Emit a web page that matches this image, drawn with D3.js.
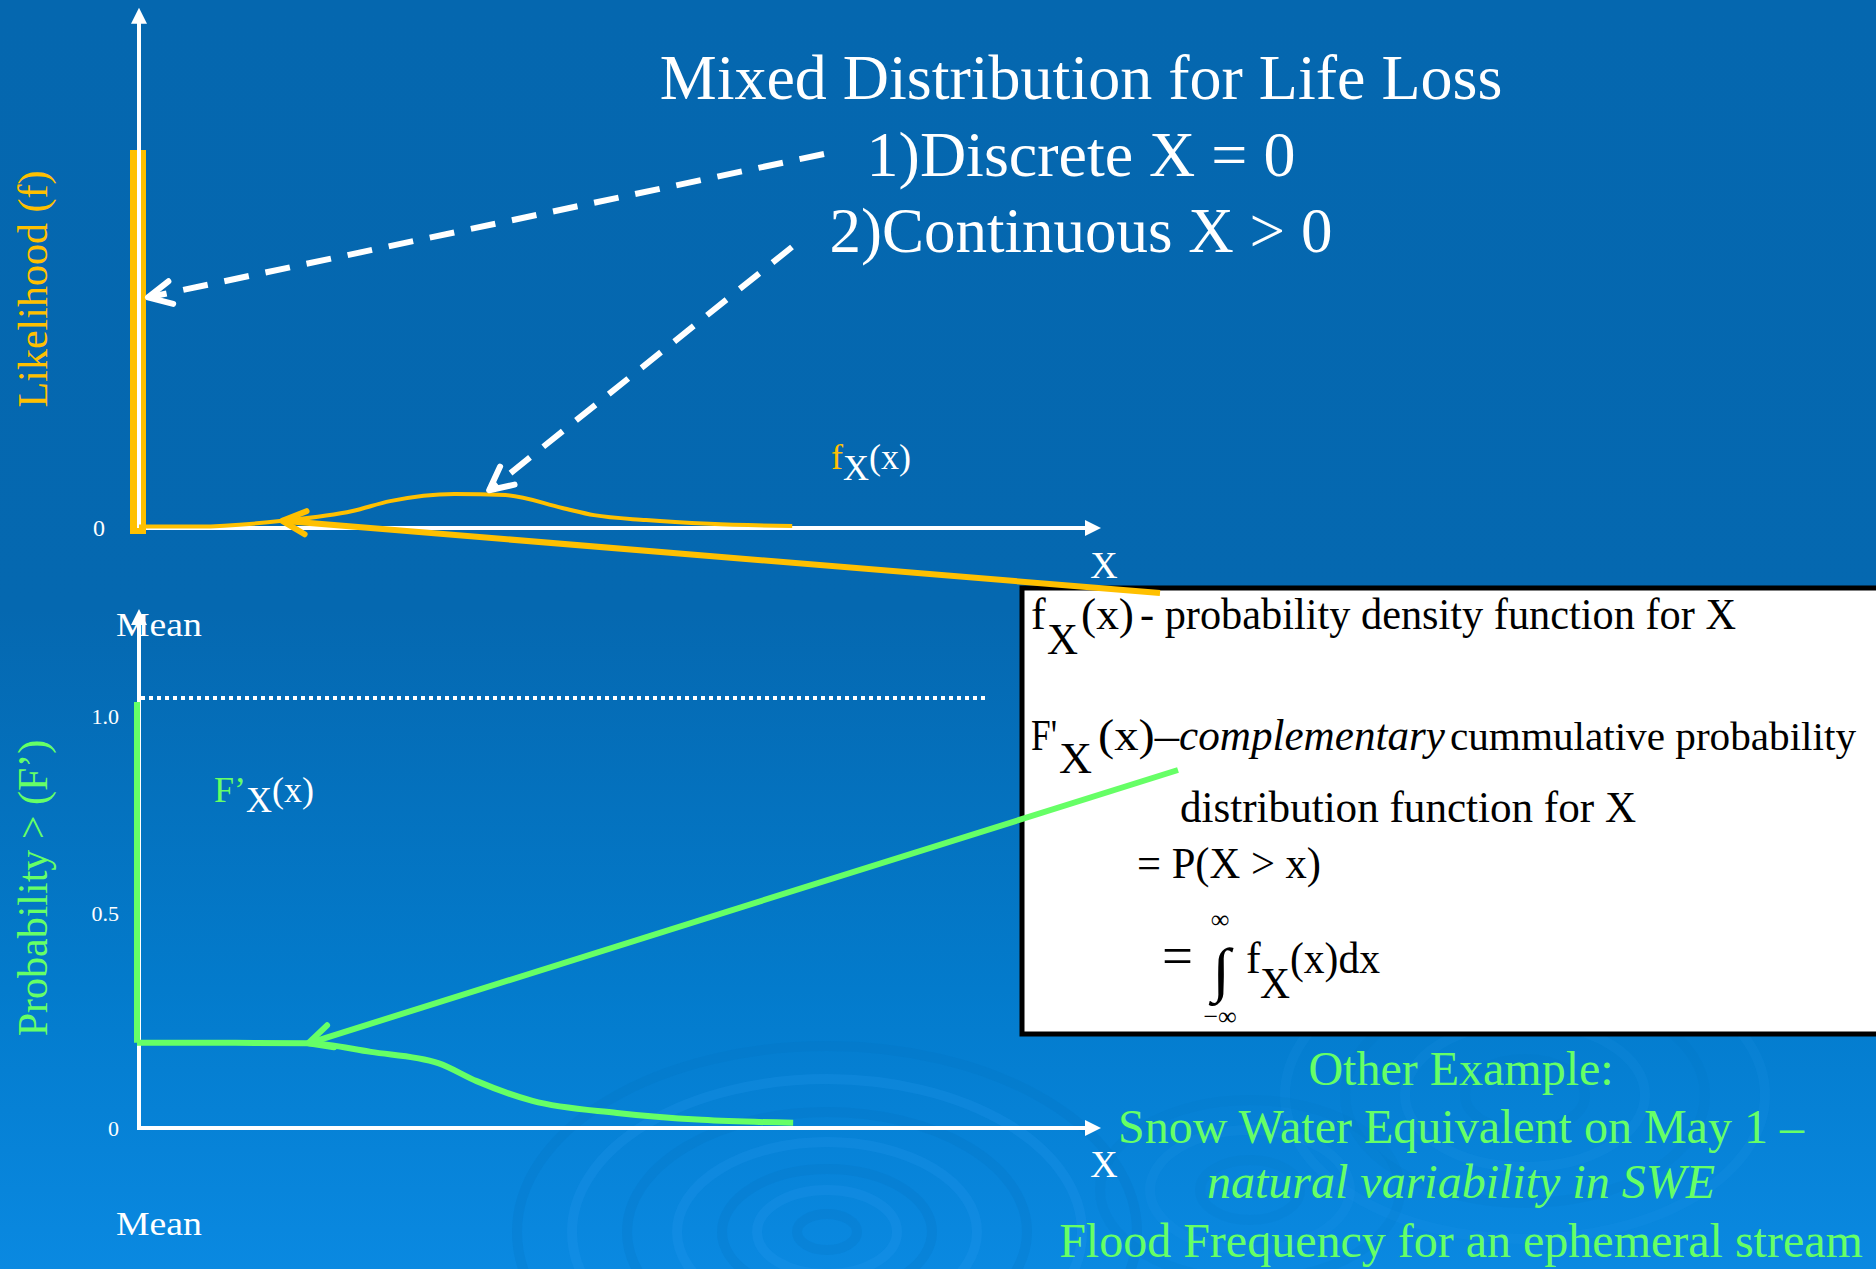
<!DOCTYPE html>
<html>
<head>
<meta charset="utf-8">
<script src="https://cdn.jsdelivr.net/npm/d3@7"></script>
<style>
  html, body { margin: 0; padding: 0; background: #0567AF; }
  svg { display: block; }
  text { font-family: "Liberation Serif", "Times New Roman", serif; }
</style>
</head>
<body>
<script>
// ---------------- DATA ----------------
const xDomain = [0, 100];                       // abstract X (life loss)
// Upper panel: mixed distribution f_X(x)
const discreteX = [0];                          // discrete spike at X = 0
const discreteMass = [1.0];                     // relative spike height
const densityX = [0, 6.2, 14.9, 22.2, 26.1, 32.8, 38.1, 44.0, 47.3, 52.7, 59.3, 67.9];
const densityY = [0.004, 0.004, 0.019, 0.045, 0.071, 0.090, 0.087, 0.053, 0.034, 0.021, 0.011, 0.005];
const upperTicks = [0];
const upperTickLabels = ["0"];
// Lower panel: complementary cumulative F'_X(x)
const jumpTop = 1.0;                            // F' just below X = 0
const ccdfX = [0, 10, 17.6, 24.1, 31.1, 35.1, 40.9, 49.7, 58.5, 68.0];
const ccdfY = [0.198, 0.198, 0.197, 0.177, 0.151, 0.109, 0.063, 0.035, 0.019, 0.012];
const lowerTicks = [0, 0.5, 1.0];
const lowerTickLabels = ["0", "0.5", "1.0"];
const titleLines = ["Mixed Distribution for Life Loss", "1)Discrete X = 0", "2)Continuous X > 0"];
const exampleLines = ["Other Example:", "Snow Water Equivalent on May 1 \u2013", "natural variability in SWE", "Flood Frequency for an ephemeral stream"];

// ---------------- STYLE ----------------
const W = 1876, H = 1269;
const ORANGE = "#FFC000", GREEN = "#66FF66", WHITE = "#FFFFFF";

const svg = d3.select("body").append("svg").attr("width", W).attr("height", H);
const defs = svg.append("defs");
const grad = defs.append("linearGradient").attr("id", "bg").attr("x1", 0).attr("y1", 0).attr("x2", 0).attr("y2", 1);
[[0, "#0567AF"], [0.48, "#0568B0"], [0.78, "#037BCC"], [1, "#0A89E1"]].forEach(([o, c]) =>
  grad.append("stop").attr("offset", o).attr("stop-color", c));
svg.append("rect").attr("width", W).attr("height", H).attr("fill", "url(#bg)");

// faint ripple decoration
const rip = svg.append("g").attr("fill", "none");
[[827, 1232, [30, 70, 105, 150, 200, 255, 310], 0.22], [1525, 1095, [60, 120, 180, 240], 0.12], [1250, 1190, [50, 100, 150], 0.12]]
  .forEach(([cx, cy, rs, op]) => rs.forEach((r, i) => {
    rip.append("ellipse").attr("cx", cx).attr("cy", cy).attr("rx", r).attr("ry", r * 0.6)
      .attr("stroke", i % 2 ? "#2a9cf0" : "#0370bf").attr("stroke-width", 10).attr("opacity", op);
  }));

// ---------------- SCALES ----------------
const x = d3.scaleLinear().domain(xDomain).range([139, 1101]);
const yTop = d3.scaleLinear().domain([0, 1]).range([528, 150]);
const yBot = d3.scaleLinear().domain([0, 1]).range([1128, 698]);

function chevron(g, tx, ty, fx, fy, len, color, width) {
  const a = Math.atan2(fy - ty, fx - tx), s = 0.46;
  const p = [[tx + len * Math.cos(a - s), ty + len * Math.sin(a - s)], [tx, ty], [tx + len * Math.cos(a + s), ty + len * Math.sin(a + s)]];
  g.append("path").attr("d", d3.line()(p)).attr("fill", "none").attr("stroke", color)
    .attr("stroke-width", width).attr("stroke-linecap", "round").attr("stroke-linejoin", "round");
}
function arrowLine(g, fx, fy, tx, ty, color, width, dash) {
  g.append("line").attr("x1", fx).attr("y1", fy).attr("x2", tx).attr("y2", ty)
    .attr("stroke", color).attr("stroke-width", width).attr("stroke-dasharray", dash || null);
  chevron(g, tx, ty, fx, fy, 26, color, width);
}
function axes(g, yS, yMaxVal) {
  g.append("line").attr("x1", x(0)).attr("x2", x(100) - 12).attr("y1", yS(0)).attr("y2", yS(0))
    .attr("stroke", WHITE).attr("stroke-width", 4);
  g.append("path").attr("d", `M${x(100)},${yS(0)} l-16,-8 l0,16 z`).attr("fill", WHITE);
  g.append("line").attr("x1", x(0)).attr("x2", x(0)).attr("y1", yS(0) + 2).attr("y2", yS(yMaxVal) + 12)
    .attr("stroke", WHITE).attr("stroke-width", 4);
  g.append("path").attr("d", `M${x(0)},${yS(yMaxVal)} l-8,16 l16,0 z`).attr("fill", WHITE);
}

// ---------------- UPPER PANEL ----------------
const up = svg.append("g");
axes(up, yTop, 1.376);
up.selectAll("rect.spike").data(discreteX).join("rect").attr("class", "spike")
  .attr("x", d => x(d) - 9).attr("width", 16)
  .attr("y", (d, i) => yTop(discreteMass[i])).attr("height", (d, i) => yTop(0) - yTop(discreteMass[i]) + 6)
  .attr("fill", ORANGE);
up.append("line").attr("x1", x(0)).attr("x2", x(0)).attr("y1", yTop(0)).attr("y2", yTop(discreteMass[0]))
  .attr("stroke", WHITE).attr("stroke-width", 4);
up.append("path").datum(densityX.map((d, i) => [d, densityY[i]]))
  .attr("d", d3.line().x(d => x(d[0])).y(d => yTop(d[1])).curve(d3.curveMonotoneX))
  .attr("fill", "none").attr("stroke", ORANGE).attr("stroke-width", 4);
up.selectAll("text.tick").data(upperTicks).join("text").attr("class", "tick")
  .attr("x", 105).attr("y", d => yTop(d)).attr("dy", "0.35em").attr("text-anchor", "end")
  .attr("font-size", 24).attr("fill", WHITE).text((d, i) => upperTickLabels[i]);
up.append("text").attr("transform", `translate(33,289) rotate(-90)`).attr("text-anchor", "middle")
  .attr("dominant-baseline", "central").attr("font-size", 42).attr("fill", ORANGE).text("Likelihood (f)");
const fl = up.append("text").attr("x", 831).attr("y", 469).attr("font-size", 36).attr("fill", WHITE);
fl.append("tspan").attr("fill", ORANGE).text("f");
fl.append("tspan").attr("dy", 11).text("X");
fl.append("tspan").attr("dy", -11).text("(x)");
up.append("text").attr("x", 1104).attr("y", 578).attr("text-anchor", "middle").attr("font-size", 38).attr("fill", WHITE).text("X");
up.append("text").attr("x", 116).attr("y", 636).attr("font-size", 34).attr("textLength", 86)
  .attr("lengthAdjust", "spacingAndGlyphs").attr("fill", WHITE).text("Mean");

// ---------------- LOWER PANEL ----------------
const lo = svg.append("g");
axes(lo, yBot, 1.207);
lo.append("line").attr("x1", x(0) + 2).attr("x2", 989).attr("y1", yBot(1.0)).attr("y2", yBot(1.0))
  .attr("stroke", WHITE).attr("stroke-width", 4).attr("stroke-dasharray", "4,4");
lo.append("line").attr("x1", x(0) - 2).attr("x2", x(0) - 2).attr("y1", yBot(jumpTop) + 4).attr("y2", yBot(ccdfY[0]))
  .attr("stroke", GREEN).attr("stroke-width", 6);
lo.append("path").datum(ccdfX.map((d, i) => [d, ccdfY[i]]))
  .attr("d", d3.line().x(d => x(d[0]) - (d[0] === 0 ? 2 : 0)).y(d => yBot(d[1])).curve(d3.curveMonotoneX))
  .attr("fill", "none").attr("stroke", GREEN).attr("stroke-width", 6);
lo.selectAll("text.tick").data(lowerTicks).join("text").attr("class", "tick")
  .attr("x", 119).attr("y", d => yBot(d) + (d === 1 ? 18 : 0)).attr("dy", "0.35em").attr("text-anchor", "end")
  .attr("font-size", 22).attr("fill", WHITE).text((d, i) => lowerTickLabels[i]);
lo.append("text").attr("transform", `translate(33,888) rotate(-90)`).attr("text-anchor", "middle")
  .attr("dominant-baseline", "central").attr("font-size", 42).attr("fill", GREEN).text("Probability > (F\u2019)");
const Fl = lo.append("text").attr("x", 214).attr("y", 802).attr("font-size", 36).attr("fill", WHITE);
Fl.append("tspan").attr("fill", GREEN).text("F\u2019");
Fl.append("tspan").attr("dy", 10).text("X");
Fl.append("tspan").attr("dy", -10).text("(x)");
lo.append("text").attr("x", 1104).attr("y", 1177).attr("text-anchor", "middle").attr("font-size", 38).attr("fill", WHITE).text("X");
lo.append("text").attr("x", 116).attr("y", 1235).attr("font-size", 34).attr("textLength", 86)
  .attr("lengthAdjust", "spacingAndGlyphs").attr("fill", WHITE).text("Mean");

// ---------------- TITLE ----------------
const tt = svg.append("g").attr("fill", WHITE).attr("text-anchor", "middle");
[[99, 64], [176, 64], [252, 63]].forEach(([yb, fs], i) =>
  tt.append("text").attr("x", 1081).attr("y", yb).attr("font-size", fs).text(titleLines[i]));

// ---------------- DEFINITION BOX ----------------
const bx = svg.append("g");
bx.append("rect").attr("x", 1022).attr("y", 588).attr("width", 900).attr("height", 446)
  .attr("fill", WHITE).attr("stroke", "#000").attr("stroke-width", 5);
const bt = bx.append("g").attr("fill", "#000").attr("font-size", 44);
function put(txt, x0, yb, len, extra) {
  const t = bt.append("text").attr("x", x0).attr("y", yb).text(txt);
  if (len) t.attr("textLength", len).attr("lengthAdjust", "spacingAndGlyphs");
  if (extra) extra(t);
  return t;
}
put("f", 1031, 629);
put("X", 1047, 654, 31);
put("(x)", 1081, 629, 53);
put("- probability density function for X", 1140, 629, 596);
put("F'", 1031, 750, 26);
put("X", 1059, 773, 33);
put("(x)\u2013", 1098, 750, 81);
put("complementary", 1179, 750, 266, t => t.attr("font-style", "italic"));
put("cummulative probability", 1450, 750, 406, t => t.attr("font-size", 41));
put("distribution function for X", 1180, 822, 456);
put("= P(X > x)", 1137, 878, 184);
put("\u221E", 1220, 928, null, t => t.attr("font-size", 26).attr("text-anchor", "middle"));
put("=", 1162, 975, 31, t => t.attr("font-size", 56));
put("\u222B", 1212, 990, 18, t => t.attr("font-size", 60));
put("f", 1246, 973);
put("X", 1260, 998, 30);
put("(x)dx", 1290, 973, 90);
put("\u2212\u221E", 1220, 1025, null, t => t.attr("font-size", 26).attr("text-anchor", "middle"));

// ---------------- ANNOTATION ARROWS ----------------
const an = svg.append("g");
arrowLine(an, 824, 154, x(0) + 9, yTop(0.61), WHITE, 6, "25,17");
arrowLine(an, 792, 247, x(36.4), yTop(0.1), WHITE, 6, "25,17");
arrowLine(an, 1160, 593, x(densityX[2]), yTop(densityY[2]), ORANGE, 6);
arrowLine(an, 1178, 770, x(ccdfX[2]), yBot(ccdfY[2]), GREEN, 6);

// ---------------- OTHER EXAMPLE TEXT ----------------
const ex = svg.append("g").attr("fill", GREEN).attr("text-anchor", "middle").attr("font-size", 48);
[1085, 1143, 1198, 1257].forEach((yb, i) => {
  const t = ex.append("text").attr("x", 1461).attr("y", yb).text(exampleLines[i]);
  if (i === 2) t.attr("font-style", "italic");
});
</script>
</body>
</html>
